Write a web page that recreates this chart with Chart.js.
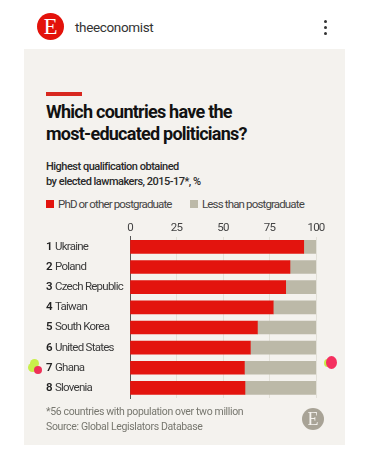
<!DOCTYPE html>
<html>
<head>
<meta charset="utf-8">
<script src="https://cdn.jsdelivr.net/npm/chart.js@4/dist/chart.umd.min.js"></script>
<style>
  html, body { margin: 0; padding: 0; background: #fff; width: 378px; height: 452px; overflow: hidden; }
  body { position: relative; font-family: Roboto, sans-serif; }
  .abs { position: absolute; white-space: nowrap; }
  #panel { left: 24px; top: 49px; width: 321px; height: 396px; background: #f4f2ee; }
  #chart { position: absolute; left: 0; top: 0; }
  #logo { left: 37px; top: 13px; width: 27px; height: 27px; border-radius: 50%; background: #e3120b; color: #fff;
    font: 23px/27px "Liberation Serif", serif; text-align: center; }
  #account { left: 75px; top: 19px; font-size: 13.5px; line-height: 16px; color: #333; letter-spacing: -0.35px; }
  .dot3 { left: 324px; width: 3px; height: 3px; border-radius: 50%; background: #333; }
  #redline { left: 46px; top: 92px; width: 36px; height: 4px; background: #d8281f; }
  #title { left: 46px; top: 101px; font-size: 18px; line-height: 22px; font-weight: 700; color: #121212; letter-spacing: -0.75px; }
  #subtitle { left: 46px; top: 160px; font-size: 11px; line-height: 14.5px; font-weight: 500; color: #2a2a2a; letter-spacing: -0.5px; }
  #legend { left: 46px; top: 197px; font-size: 11.5px; line-height: 14px; color: #444; letter-spacing: -0.85px; }
  #legend i { position: absolute; top: 3px; width: 8px; height: 8px; }
  #legend span { position: absolute; top: 0; }
  #note { left: 46px; top: 405px; font-size: 10.5px; line-height: 14.5px; color: #77776f; letter-spacing: -0.35px; }
  #stamp { left: 302px; top: 408px; width: 22px; height: 22px; border-radius: 50%; background: #a8a396; color: #f4f2ee;
    font: 18px/22px "Liberation Serif", serif; text-align: center; }
  .blob { position: absolute; border-radius: 50%; }
</style>
</head>
<body>
<div class="abs" id="panel"></div>
<div class="abs" id="logo">E</div>
<div class="abs" id="account">theeconomist</div>
<div class="abs dot3" style="top:20px"></div>
<div class="abs dot3" style="top:26px"></div>
<div class="abs dot3" style="top:32px"></div>
<div class="abs" id="redline"></div>
<div class="abs" id="title">Which countries have the<br>most-educated politicians?</div>
<div class="abs" id="subtitle">Highest qualification obtained<br>by elected lawmakers, 2015-17*, %</div>
<div class="abs" id="legend"></div>
<canvas id="chart" width="378" height="452"></canvas>
<div class="abs" id="note">*56 countries with population over two million<br>Source: Global Legislators Database</div>
<div class="abs" id="stamp">E</div>
<div class="blob" style="left:30px;top:359px;width:9px;height:9px;background:#c8ef4a"></div>
<div class="blob" style="left:28px;top:363px;width:9px;height:9px;background:#c8ef4a"></div>
<div class="blob" style="left:34px;top:366px;width:8px;height:8px;background:#ee3158"></div>
<div class="blob" style="left:324px;top:359px;width:7px;height:8px;background:#c8ef4a"></div>
<div class="blob" style="left:326px;top:356px;width:11px;height:13px;background:#f5305f"></div>

<script>
// Chart data
const ranks = ['1', '2', '3', '4', '5', '6', '7', '8'];
const countries = ['Ukraine', 'Poland', 'Czech Republic', 'Taiwan', 'South Korea', 'United States', 'Ghana', 'Slovenia'];
const postgraduate = [93.4, 86, 83.7, 77, 68.5, 64.7, 61.5, 61.8];
const lessThanPostgraduate = [6.6, 14, 16.3, 23, 31.5, 35.3, 38.5, 38.2];
const xTicks = [0, 25, 50, 75, 100];
const seriesNames = ['PhD or other postgraduate', 'Less than postgraduate'];
const seriesColors = ['#e3140e', '#bcb9a8'];

// Legend is plain html so it can sit above the chart's top axis
const legend = document.getElementById('legend');
[0, 144].forEach((left, i) => {
  legend.innerHTML += `<i style="left:${left}px;background:${seriesColors[i]}"></i>` +
    `<span style="left:${left + 12}px">${seriesNames[i]}</span>`;
});

// Tightens the canvas text, the original uses a narrow face
const tightText = {
  id: 'tightText',
  beforeDraw(chart) {
    chart.ctx.letterSpacing = '-0.75px';
  }
};

// Draws the bold rank number in front of each country name
const rankPlugin = {
  id: 'ranks',
  afterDraw(chart) {
    const ctx = chart.ctx;
    ctx.save();
    ctx.font = '600 11.5px Roboto';
    ctx.fillStyle = '#222';
    ctx.textBaseline = 'middle';
    ranks.forEach((r, i) => {
      ctx.fillText(r, 46, chart.scales.y.getPixelForValue(i));
    });
    ctx.restore();
  }
};

new Chart(document.getElementById('chart'), {
  type: 'bar',
  data: {
    labels: countries,
    datasets: [
      { label: seriesNames[0], data: postgraduate, backgroundColor: seriesColors[0] },
      { label: seriesNames[1], data: lessThanPostgraduate, backgroundColor: seriesColors[1] }
    ]
  },
  options: {
    indexAxis: 'y',
    responsive: false,
    animation: false,
    layout: { padding: { left: 55, right: 62, top: 219, bottom: 54 } },
    plugins: { legend: { display: false }, tooltip: { enabled: false } },
    datasets: { bar: { barThickness: 13 } },
    scales: {
      x: {
        position: 'top',
        stacked: true,
        min: 0,
        max: 100,
        afterBuildTicks(axis) { axis.ticks = xTicks.map(v => ({ value: v })); },
        border: { display: false },
        grid: { color: '#e2e0d8', lineWidth: 1, drawTicks: false },
        ticks: { padding: 2, maxRotation: 0, color: '#444', font: { family: 'Roboto', size: 11.5 } }
      },
      y: {
        stacked: true,
        afterFit(axis) { axis.width = 75; },
        border: { color: '#555', width: 1 },
        grid: { display: false, drawTicks: false },
        ticks: { crossAlign: 'far', padding: 0, color: '#3a3a3a', font: { family: 'Roboto', size: 11.5 } }
      }
    }
  },
  plugins: [tightText, rankPlugin]
});
</script>
</body>
</html>
